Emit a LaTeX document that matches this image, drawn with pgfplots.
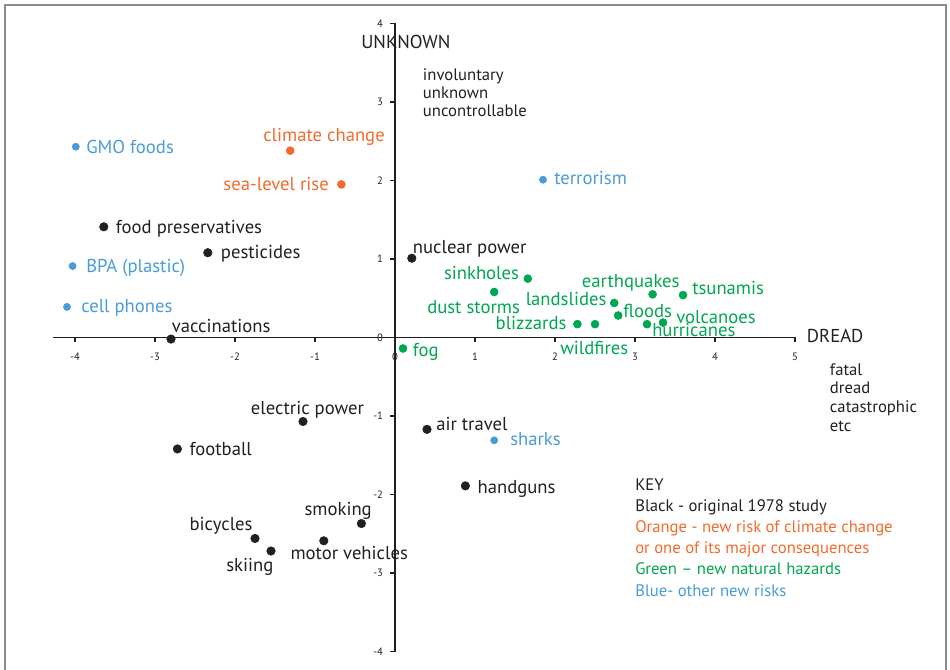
\documentclass[border=0pt]{standalone}
\usepackage{pgfplots}
\pgfplotsset{compat=1.18}
\usepackage{fontspec}
\setmainfont{PT Sans}
\definecolor{blk}{HTML}{231F20}
\definecolor{org}{HTML}{F26A2C}
\definecolor{grn}{HTML}{00A651}
\definecolor{blu}{HTML}{4A9BD7}
\definecolor{frm}{HTML}{8C8C8C}
\tikzset{lab/.style={inner sep=0pt, text height=0.7em, text depth=0pt, yshift=-1.4pt, font=\fontsize{14}{14}\selectfont},
  sm/.style={inner sep=0pt, text height=0.7em, text depth=0pt, yshift=-1.2pt, font=\fontsize{12.5}{12.5}\selectfont, text=blk},
  key/.style={inner sep=0pt, text height=0.7em, text depth=0pt, yshift=-1.2pt, font=\fontsize{12.5}{12.5}\selectfont}}
\begin{document}
\begin{tikzpicture}
\useasboundingbox (0pt,0pt) rectangle (712.5pt,-502.5pt);
\begin{axis}[at={(296.25pt,-253.125pt)}, anchor=origin, x=60pt, y=58.875pt,
  xmin=-4.28, xmax=5, ymin=-4, ymax=4,
  axis lines=middle, axis line style={-, line width=0.9pt, blk},
  xtick={-4,-3,-2,-1,0,1,2,3,4,5}, ytick={-4,-3,-2,-1,0,1,2,3,4},
  hide obscured x ticks=false, hide obscured y ticks=false,
  xtick align=outside, ytick align=outside, major tick length=3.5pt, tick style={blk, line width=0.8pt},
  xticklabel style={font=\fontsize{8}{8}\selectfont, text=blk, yshift=-4.5pt},
  yticklabel style={font=\fontsize{8}{8}\selectfont, text=blk, xshift=-2pt},
  /pgf/number format/assume math mode=true,
  clip=false]
% original 1978 study
\addplot[only marks, mark=*, mark size=3.2pt, blk] coordinates {
(-3.64,1.41) (-2.34,1.08) (-2.80,-0.02) (0.21,1.01) (-1.15,-1.07) (-2.72,-1.42)
(0.40,-1.17) (0.88,-1.89) (-0.42,-2.37) (-1.75,-2.56) (-0.89,-2.59) (-1.55,-2.72)};
% climate change
\addplot[only marks, mark=*, mark size=3pt, org] coordinates {(-1.31,2.38) (-0.67,1.95)};
% natural hazards
\addplot[only marks, mark=*, mark size=3pt, grn] coordinates {
(1.66,0.75) (1.24,0.58) (3.22,0.55) (3.60,0.54) (2.74,0.44) (2.79,0.28)
(2.28,0.17) (2.50,0.17) (3.15,0.17) (3.35,0.19) (0.10,-0.14)};
% other new risks
\addplot[only marks, mark=*, mark size=2.7pt, blu] coordinates {
(-3.99,2.43) (-4.03,0.91) (-4.10,0.39) (1.85,2.01) (1.24,-1.31)};
\end{axis}
\begin{scope}[x=0.75pt,y=-0.75pt]
\draw[frm, line width=1.5pt] (5,675) -- (5,5) -- (946,5) -- (946,675);
% labels
\node[lab, text=blu, anchor=west] at (86,147) {GMO foods};
\node[lab, text=org, anchor=west] at (263,135) {climate change};
\node[lab, text=org, anchor=east] at (329,184.3) {sea-level rise};
\node[lab, text=blk, anchor=west] at (115.7,227) {food preservatives};
\node[lab, text=blk, anchor=west] at (220.7,252.3) {pesticides};
\node[lab, text=blu, anchor=west] at (86,266) {BPA (plastic)};
\node[lab, text=blu, anchor=west] at (81,306) {cell phones};
\node[lab, text=blk, anchor=west] at (171.7,326) {vaccinations};
\node[lab, text=blk, anchor=west] at (361,42) {UNKNOWN};
\node[sm, anchor=west] at (422.7,74) {involuntary};
\node[sm, anchor=west] at (422.7,92.3) {unknown};
\node[sm, anchor=west] at (422.7,110.7) {uncontrollable};
\node[lab, text=blk, anchor=west] at (412.7,246.7) {nuclear power};
\node[lab, text=blu, anchor=west] at (554,178.3) {terrorism};
\node[lab, text=grn, anchor=east] at (519.3,273) {sinkholes};
\node[lab, text=grn, anchor=west] at (427,306.7) {dust storms};
\node[lab, text=grn, anchor=west] at (581.7,281) {earthquakes};
\node[lab, text=grn, anchor=west] at (692,287.7) {tsunamis};
\node[lab, text=grn, anchor=east] at (606.7,299) {landslides};
\node[lab, text=grn, anchor=west] at (623,310.7) {floods};
\node[lab, text=grn, anchor=east] at (566.7,323) {blizzards};
\node[lab, text=grn, anchor=west] at (560,347.7) {wildfires};
\node[lab, text=grn, anchor=west] at (652,330) {hurricanes};
\node[lab, text=grn, anchor=west] at (676,317.3) {volcanoes};
\node[lab, text=grn, anchor=west] at (412.7,350) {fog};
\node[lab, text=blk, anchor=west] at (806.7,336) {DREAD};
\node[sm, anchor=west] at (829.7,369) {fatal};
\node[sm, anchor=west] at (829.7,387.7) {dread};
\node[sm, anchor=west] at (829.7,406.7) {catastrophic};
\node[sm, anchor=west] at (829.7,425.7) {etc};
\node[lab, text=blk, anchor=west] at (250.7,408.3) {electric power};
\node[lab, text=blk, anchor=west] at (189.3,448.7) {football};
\node[lab, text=blk, anchor=west] at (436,424.3) {air travel};
\node[lab, text=blu, anchor=west] at (510,439.3) {sharks};
\node[lab, text=blk, anchor=west] at (477.3,487.3) {handguns};
\node[lab, text=blk, anchor=west] at (304.3,509.3) {smoking};
\node[lab, text=blk, anchor=west] at (189.3,524) {bicycles};
\node[lab, text=blk, anchor=west] at (290.3,553.3) {motor vehicles};
\node[lab, text=blk, anchor=west] at (226,565) {skiing};
% key
\node[key, text=blk, anchor=west] at (635,484.3) {KEY};
\node[key, text=blk, anchor=west] at (635,505) {Black - original 1978 study};
\node[key, text=org, anchor=west] at (635,526.3) {Orange - new risk of climate change};
\node[key, text=org, anchor=west] at (635,547.7) {or one of its major consequences};
\node[key, text=grn, anchor=west] at (635,568.7) {Green – new natural hazards};
\node[key, text=blu, anchor=west] at (635,590) {Blue- other new risks};
\end{scope}
\end{tikzpicture}
\end{document}
